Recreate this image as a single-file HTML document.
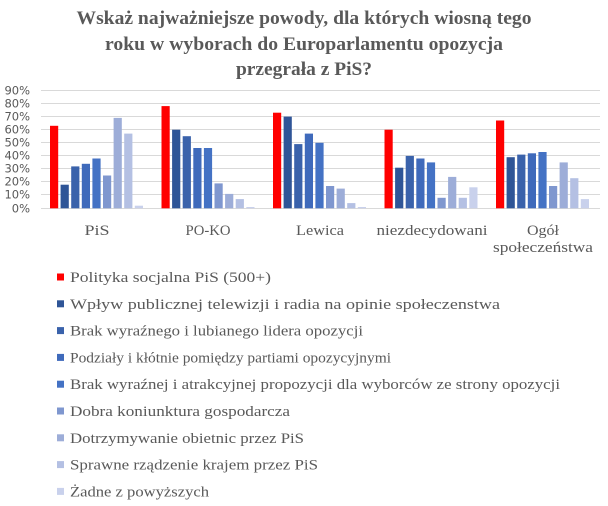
<!DOCTYPE html>
<html><head><meta charset="utf-8"><style>
html,body{margin:0;padding:0;background:#fff;}
svg{display:block;}
.s{font-family:"Liberation Serif",serif;fill:#595959;}
.a{font-family:"DejaVu Sans","Liberation Sans",sans-serif;fill:#595959;}
</style></head><body>
<svg width="608" height="506" viewBox="0 0 608 506" xmlns="http://www.w3.org/2000/svg">
<g class="s" font-weight="bold" font-size="19" text-anchor="middle">
<text class="s" x="304" y="24" textLength="455" lengthAdjust="spacingAndGlyphs">Wskaż najważniejsze powody, dla których wiosną tego</text>
<text class="s" x="304" y="50" textLength="398" lengthAdjust="spacingAndGlyphs">roku w wyborach do Europarlamentu opozycja</text>
<text class="s" x="304" y="75" textLength="136" lengthAdjust="spacingAndGlyphs">przegrała z PiS?</text>
</g>
<g stroke="#d9d9d9" stroke-width="1">
<line x1="41" x2="600" y1="90.5" y2="90.5"/><line x1="41" x2="600" y1="103.5" y2="103.5"/>
<line x1="41" x2="600" y1="116.5" y2="116.5"/><line x1="41" x2="600" y1="129.5" y2="129.5"/>
<line x1="41" x2="600" y1="142.5" y2="142.5"/><line x1="41" x2="600" y1="155.5" y2="155.5"/>
<line x1="41" x2="600" y1="168.5" y2="168.5"/><line x1="41" x2="600" y1="181.5" y2="181.5"/>
<line x1="41" x2="600" y1="194.5" y2="194.5"/><line x1="41" x2="600" y1="208.5" y2="208.5"/>
</g>
<g font-size="11.5" text-anchor="end">
<text class="a" x="30" y="94.5">90%</text><text class="a" x="30" y="107.5">80%</text><text class="a" x="30" y="120.5">70%</text>
<text class="a" x="30" y="133.5">60%</text><text class="a" x="30" y="146.5">50%</text><text class="a" x="30" y="159.5">40%</text>
<text class="a" x="30" y="172.5">30%</text><text class="a" x="30" y="185.5">20%</text><text class="a" x="30" y="198.5">10%</text>
<text class="a" x="30" y="212.5">0%</text>
</g>
<g transform="translate(0,208.3) scale(1,-1)">
<rect x="50" width="8.2" height="82.5" fill="#ff0000"/>
<rect x="60.6" width="8.2" height="23.6" fill="#2f5597"/>
<rect x="71.2" width="8.2" height="41.9" fill="#3a62ab"/>
<rect x="81.8" width="8.2" height="44.5" fill="#3f6abb"/>
<rect x="92.4" width="8.2" height="49.8" fill="#4472c4"/>
<rect x="103" width="8.2" height="32.8" fill="#7f97cf"/>
<rect x="113.6" width="8.2" height="90.4" fill="#9dadd8"/>
<rect x="124.2" width="8.2" height="74.7" fill="#b4c0e3"/>
<rect x="134.8" width="8.2" height="2.6" fill="#c9d1ec"/>

<rect x="161.5" width="8.2" height="102.2" fill="#ff0000"/>
<rect x="172.1" width="8.2" height="78.6" fill="#2f5597"/>
<rect x="182.7" width="8.2" height="72.1" fill="#3a62ab"/>
<rect x="193.3" width="8.2" height="60.3" fill="#3f6abb"/>
<rect x="203.9" width="8.2" height="60.3" fill="#4472c4"/>
<rect x="214.5" width="8.2" height="24.9" fill="#7f97cf"/>
<rect x="225.1" width="8.2" height="14.4" fill="#9dadd8"/>
<rect x="235.7" width="8.2" height="9.2" fill="#b4c0e3"/>
<rect x="246.3" width="8.2" height="1.3" fill="#c9d1ec"/>

<rect x="273" width="8.2" height="95.6" fill="#ff0000"/>
<rect x="283.6" width="8.2" height="91.7" fill="#2f5597"/>
<rect x="294.2" width="8.2" height="64.2" fill="#3a62ab"/>
<rect x="304.8" width="8.2" height="74.7" fill="#3f6abb"/>
<rect x="315.4" width="8.2" height="65.5" fill="#4472c4"/>
<rect x="326" width="8.2" height="22.3" fill="#7f97cf"/>
<rect x="336.6" width="8.2" height="19.7" fill="#9dadd8"/>
<rect x="347.2" width="8.2" height="5.2" fill="#b4c0e3"/>
<rect x="357.8" width="8.2" height="1.3" fill="#c9d1ec"/>

<rect x="384.5" width="8.2" height="78.6" fill="#ff0000"/>
<rect x="395.1" width="8.2" height="40.6" fill="#2f5597"/>
<rect x="405.7" width="8.2" height="52.4" fill="#3a62ab"/>
<rect x="416.3" width="8.2" height="49.8" fill="#3f6abb"/>
<rect x="426.9" width="8.2" height="45.9" fill="#4472c4"/>
<rect x="437.5" width="8.2" height="10.5" fill="#7f97cf"/>
<rect x="448.1" width="8.2" height="31.4" fill="#9dadd8"/>
<rect x="458.7" width="8.2" height="10.5" fill="#b4c0e3"/>
<rect x="469.3" width="8.2" height="21" fill="#c9d1ec"/>

<rect x="496" width="8.2" height="87.8" fill="#ff0000"/>
<rect x="506.6" width="8.2" height="51.1" fill="#2f5597"/>
<rect x="517.2" width="8.2" height="53.7" fill="#3a62ab"/>
<rect x="527.8" width="8.2" height="55" fill="#3f6abb"/>
<rect x="538.4" width="8.2" height="56.3" fill="#4472c4"/>
<rect x="549" width="8.2" height="22.3" fill="#7f97cf"/>
<rect x="559.6" width="8.2" height="45.9" fill="#9dadd8"/>
<rect x="570.2" width="8.2" height="30.1" fill="#b4c0e3"/>
<rect x="580.8" width="8.2" height="9.2" fill="#c9d1ec"/>
</g>
<g font-size="15" text-anchor="middle">
<text class="s" x="97" y="235" textLength="25" lengthAdjust="spacingAndGlyphs">PiS</text>
<text class="s" x="208" y="235" textLength="45" lengthAdjust="spacingAndGlyphs">PO-KO</text>
<text class="s" x="320" y="235" textLength="48" lengthAdjust="spacingAndGlyphs">Lewica</text>
<text class="s" x="432" y="235" textLength="111" lengthAdjust="spacingAndGlyphs">niezdecydowani</text>
<text class="s" x="543" y="235" textLength="32" lengthAdjust="spacingAndGlyphs">Ogół</text>
<text class="s" x="543" y="252" textLength="100" lengthAdjust="spacingAndGlyphs">społeczeństwa</text>
</g>
<g font-size="15">
<rect x="57" y="273.5" width="7" height="7" fill="#ff0000"/><text class="s" x="70" y="282" textLength="201" lengthAdjust="spacingAndGlyphs">Polityka socjalna PiS (500+)</text>
<rect x="57" y="300.3" width="7" height="7" fill="#2f5597"/><text class="s" x="70" y="308.8" textLength="430" lengthAdjust="spacingAndGlyphs">Wpływ publicznej telewizji i radia na opinie społeczenstwa</text>
<rect x="57" y="327.1" width="7" height="7" fill="#3a62ab"/><text class="s" x="70" y="335.6" textLength="293" lengthAdjust="spacingAndGlyphs">Brak wyraźnego i lubianego lidera opozycji</text>
<rect x="57" y="353.9" width="7" height="7" fill="#3f6abb"/><text class="s" x="70" y="362.4" textLength="321" lengthAdjust="spacingAndGlyphs">Podziały i kłótnie pomiędzy partiami opozycyjnymi</text>
<rect x="57" y="380.7" width="7" height="7" fill="#4472c4"/><text class="s" x="70" y="389.2" textLength="490" lengthAdjust="spacingAndGlyphs">Brak wyraźnej i atrakcyjnej propozycji dla wyborców ze strony opozycji</text>
<rect x="57" y="407.5" width="7" height="7" fill="#7f97cf"/><text class="s" x="70" y="416" textLength="220" lengthAdjust="spacingAndGlyphs">Dobra koniunktura gospodarcza</text>
<rect x="57" y="434.3" width="7" height="7" fill="#9dadd8"/><text class="s" x="70" y="442.8" textLength="234" lengthAdjust="spacingAndGlyphs">Dotrzymywanie obietnic przez PiS</text>
<rect x="57" y="461.1" width="7" height="7" fill="#b4c0e3"/><text class="s" x="70" y="469.6" textLength="248" lengthAdjust="spacingAndGlyphs">Sprawne rządzenie krajem przez PiS</text>
<rect x="57" y="487.9" width="7" height="7" fill="#c9d1ec"/><text class="s" x="70" y="496.4" textLength="139" lengthAdjust="spacingAndGlyphs">Żadne z powyższych</text>
</g>
</svg>
</body></html>
